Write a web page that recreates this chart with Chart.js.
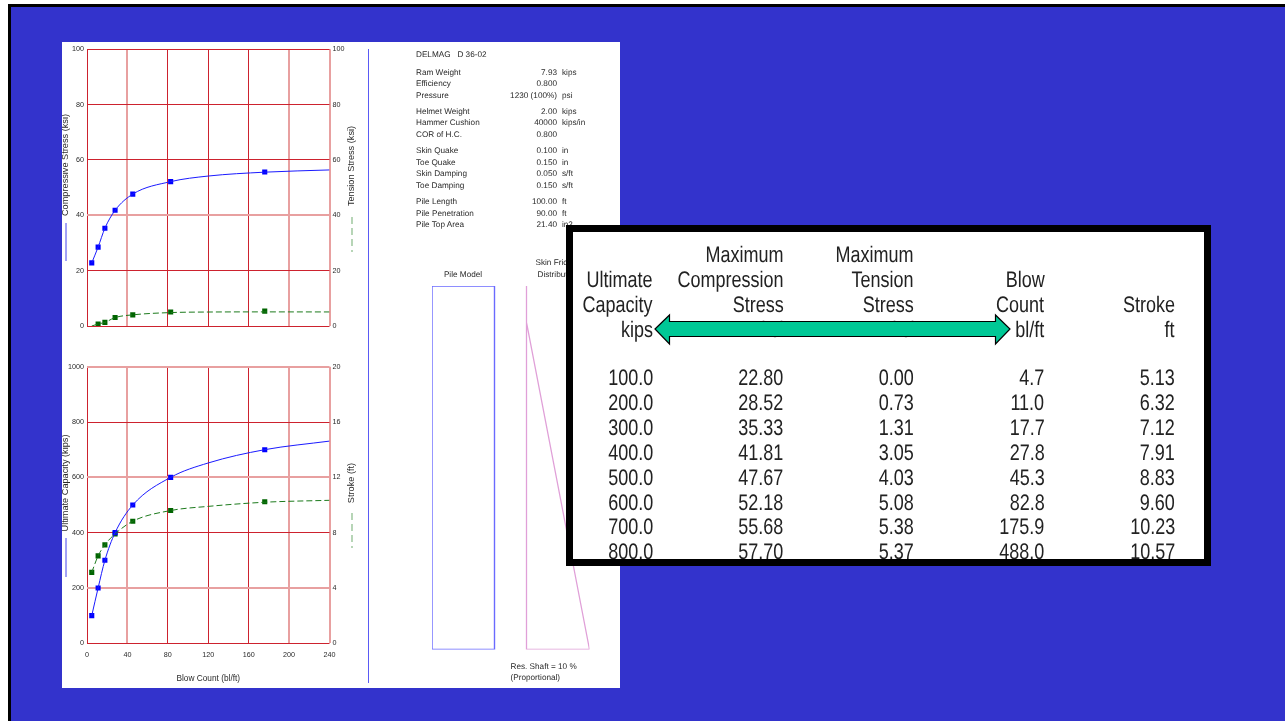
<!DOCTYPE html>
<html>
<head>
<meta charset="utf-8">
<title>Wave equation bearing graph</title>
<script src="https://cdn.jsdelivr.net/npm/chart.js@4"></script>
<style>
  html, body { margin: 0; padding: 0; background: #fff; }
  body { width: 1285px; height: 721px; overflow: hidden; position: relative; font-family: "Liberation Sans", Arial, sans-serif; text-rendering: geometricPrecision; }
  .abs { position: absolute; }
  #slide { left: 8px; top: 4px; width: 1277px; height: 717px; box-sizing: border-box; background: #3333cc; border: solid #000; border-width: 3px 0 0 3px; }
  #sheet { left: 62px; top: 42px; width: 558px; height: 646px; background: #fff; }
  canvas { position: absolute; filter: blur(0.25px); }
  #divider { left: 368px; top: 49px; width: 1px; height: 634px; background: #5a5af5; }
  #notes { filter: blur(0.25px); }
  .lbl { position: absolute; font-size: 8.2px; line-height: 11px; color: #2a2a2a; white-space: pre; }
  /* ── Table overlay ───────────────────────── */
  #tableBox { left: 566px; top: 225px; width: 645px; height: 341px; box-sizing: border-box; background: #fff; border: 7px solid #000; overflow: hidden; }
  .cell { position: absolute; font-size: 22.5px; line-height: 25px; color: #222; white-space: nowrap; transform: scaleX(.8); transform-origin: right center; text-align: right; filter: blur(0.3px); }
  #arrow { left: 640px; top: 305px; }
</style>
</head>
<body>
<div id="slide" class="abs"></div>
<div id="sheet" class="abs"></div>
<div id="divider" class="abs"></div>
<canvas id="stressChart" width="303" height="295" style="left:62px;top:42px"></canvas>
<canvas id="capacityChart" width="303" height="330" style="left:62px;top:358px"></canvas>
<canvas id="pileChart" width="170" height="375" style="left:426px;top:280px"></canvas>
<div id="notes"></div>
<div id="tableBox" class="abs"></div>
<svg id="arrow" class="abs" width="385" height="48">
  <polygon points="15,24 29.5,10 29.5,16.5 355.5,16.5 355.5,10 370,24 355.5,39 355.5,31.5 29.5,31.5 29.5,39" fill="#00c896" stroke="#000" stroke-width="1.2"/>
</svg>

<script>
/* ── Data ─────────────────────────────────────────────── */
const capacity    = [100, 200, 300, 400, 500, 600, 700, 800];
const compression = [22.80, 28.52, 35.33, 41.81, 47.67, 52.18, 55.68, 57.70];
const tension     = [0.00, 0.73, 1.31, 3.05, 4.03, 5.08, 5.38, 5.37];
const blowCount   = [4.7, 11.0, 17.7, 27.8, 45.3, 82.8, 175.9, 488.0];
const stroke      = [5.13, 6.32, 7.12, 7.91, 8.83, 9.60, 10.23, 10.57];

/* fitted curves, they stop at the axis end */
const curveBlow        = [4.7, 11.0, 17.7, 27.8, 45.3, 82.8, 120, 175.9, 240];
const curveCapacity    = [100, 200, 300, 400, 500, 600, 652, 700, 731];
const curveCompression = [22.80, 28.52, 35.33, 41.81, 47.67, 52.18, 54.2, 55.6, 56.4];
const curveTension     = [0.00, 0.73, 1.31, 3.05, 4.03, 4.85, 5.05, 5.10, 5.08];
const curveStroke      = [5.13, 6.32, 7.12, 7.91, 8.83, 9.60, 9.90, 10.20, 10.34];

const blowTicks     = [0, 40, 80, 120, 160, 200, 240];
const stressTicks   = [0, 20, 40, 60, 80, 100];
const capacityTicks = [0, 200, 400, 600, 800, 1000];
const strokeTicks   = [0, 4, 8, 12, 16, 20];

/* pile model, depth in ft, friction as fraction of the plot width */
const pileWidth     = [0, 0, 1, 1, 0];
const pileDepth     = [0, 100, 100, 0, 0];
const frictionWidth = [1.512, 1.512, 2.52, 1.512];
const frictionDepth = [0, 100, 100, 10];

const hammerRows = [
  ['DELMAG   D 36-02', '', '', 54.5],
  ['Ram Weight', '7.93', 'kips', 72],
  ['Efficiency', '0.800', '', 83.5],
  ['Pressure', '1230 (100%)', 'psi', 95],
  ['Helmet Weight', '2.00', 'kips', 111],
  ['Hammer Cushion', '40000', 'kips/in', 122.5],
  ['COR of H.C.', '0.800', '', 134],
  ['Skin Quake', '0.100', 'in', 150.5],
  ['Toe Quake', '0.150', 'in', 162],
  ['Skin Damping', '0.050', 's/ft', 173.5],
  ['Toe Damping', '0.150', 's/ft', 185],
  ['Pile Length', '100.00', 'ft', 201.5],
  ['Pile Penetration', '90.00', 'ft', 213],
  ['Pile Top Area', '21.40', 'in2', 224.5]
];

const tableHeads = [
  ['', 'Ultimate', 'Capacity', 'kips'],
  ['Maximum', 'Compression', 'Stress', 'ksi'],
  ['Maximum', 'Tension', 'Stress', 'ksi'],
  ['', 'Blow', 'Count', 'bl/ft'],
  ['', '', 'Stroke', 'ft']
];
const tableCols = [
  capacity.map(v => v.toFixed(1)),
  compression.map(v => v.toFixed(2)),
  tension.map(v => v.toFixed(2)),
  blowCount.map(v => v.toFixed(1)),
  stroke.map(v => v.toFixed(2))
];

/* ── Styling ──────────────────────────────────────────── */
const BLUE = '#1a1aff', GREEN = '#1c7a1c';
const FONT = '"Liberation Sans", Arial, sans-serif';
const RED = 'rgb(205,34,46)', PALE = 'rgb(232,160,160)';

// the source was resampled, some grid lines came out crisp and some smeared
const paleX = [40, 200, 240];
const paleYTop = [40];
const paleYBottom = [200, 600, 1000];

function pts(xs, ys) { return xs.map((x, i) => ({ x, y: ys[i] })); }

function curve(ys, color, axis, dashed) {
  return {
    data: pts(curveBlow, ys),
    yAxisID: axis,
    borderColor: color,
    borderWidth: 1,
    borderDash: dashed ? [6, 3] : [],
    cubicInterpolationMode: 'monotone',
    pointRadius: 0
  };
}

function marks(xs, ys, color, axis, hideFirst) {
  return {
    data: pts(xs, ys),
    yAxisID: axis,
    showLine: false,
    backgroundColor: color,
    pointStyle: 'rect',
    pointRadius: ctx => (hideFirst && ctx.dataIndex === 0) ? 0 : 3.6,
    pointBorderWidth: 0
  };
}

/* axis captions sit off-centre with a line sample below them, so draw them here */
const captionPlugin = {
  id: 'captions',
  afterDraw(chart, args, opts) {
    const c = chart.ctx;
    opts.items.forEach(it => {
      c.save();
      c.translate(it.x, it.y);
      c.rotate(-Math.PI / 2);
      c.font = '9.2px ' + FONT;
      c.fillStyle = '#2a2a2a';
      c.textAlign = 'center';
      c.textBaseline = 'middle';
      c.fillText(it.text, 0, 0);
      c.restore();
      c.save();
      c.strokeStyle = it.color;
      c.lineWidth = it.width;
      c.setLineDash(it.dash);
      c.beginPath();
      c.moveTo(it.x + 0.5, it.y1);
      c.lineTo(it.x + 0.5, it.y2);
      c.stroke();
      c.restore();
    });
  }
};

function makeChart(id, opts) {
  const paleY = opts.paleY;
  const tickFont = { size: 7.2, family: FONT };
  return new Chart(document.getElementById(id), {
    type: 'line',
    data: { datasets: opts.datasets },
    plugins: [captionPlugin],
    options: {
      responsive: false,
      animation: false,
      events: [],
      layout: { padding: opts.padding },
      plugins: {
        legend: { display: false },
        tooltip: { enabled: false },
        captions: { items: opts.captions }
      },
      scales: {
        x: {
          type: 'linear', min: 0, max: 240,
          afterBuildTicks: s => { s.ticks = blowTicks.map(value => ({ value })); },
          afterFit: s => { s.height = opts.xHeight; },
          border: { display: false },
          grid: {
            drawTicks: false,
            color: c => paleX.includes(c.tick.value) ? PALE : RED,
            lineWidth: c => paleX.includes(c.tick.value) ? 2 : 1
          },
          ticks: { display: opts.xLabels, color: '#2a2a2a', padding: 7, maxRotation: 0, font: tickFont, callback: v => String(v) },
          title: { display: opts.xLabels, text: 'Blow Count (bl/ft)', color: '#2a2a2a', padding: { top: 7, bottom: 0 }, font: { size: 8.3, family: FONT } }
        },
        y: {
          position: 'left', min: 0, max: opts.leftTicks[opts.leftTicks.length - 1],
          afterBuildTicks: s => { s.ticks = opts.leftTicks.map(value => ({ value })); },
          afterFit: s => { s.width = 25; },
          border: { display: false },
          grid: {
            drawTicks: false,
            color: c => paleY.includes(c.tick.value) ? PALE : RED,
            lineWidth: c => paleY.includes(c.tick.value) ? 2 : 1
          },
          ticks: { color: '#2a2a2a', padding: 3, font: tickFont, callback: v => String(v) }
        },
        y2: {
          position: 'right', min: 0, max: opts.rightTicks[opts.rightTicks.length - 1],
          afterBuildTicks: s => { s.ticks = opts.rightTicks.map(value => ({ value })); },
          afterFit: s => { s.width = 35.5; },
          border: { display: false },
          grid: { display: false, drawTicks: false },
          ticks: { color: '#2a2a2a', padding: 3, font: tickFont, callback: v => String(v) }
        }
      }
    }
  });
}

/* ── Charts ───────────────────────────────────────────── */
makeChart('stressChart', {
  padding: { top: 7.3, left: 0, right: 0, bottom: 0 },
  xHeight: 11,
  xLabels: false,
  paleY: paleYTop,
  leftTicks: stressTicks,
  rightTicks: stressTicks,
  datasets: [
    curve(curveCompression, BLUE, 'y', false),
    curve(curveTension, GREEN, 'y2', true),
    marks(blowCount, compression, '#0000ff', 'y', false),
    marks(blowCount, tension, '#006400', 'y2', true)
  ],
  captions: [
    { text: 'Compressive Stress (ksi)', x: 3.5, y: 123, y1: 181, y2: 219, color: '#4444ee', width: 1, dash: [] },
    { text: 'Tension Stress (ksi)', x: 289.5, y: 124, y1: 175, y2: 210, color: '#a5cba5', width: 1.6, dash: [7, 4] }
  ]
});

makeChart('capacityChart', {
  padding: { top: 8.7, left: 0, right: 0, bottom: 4 },
  xHeight: 40.7,
  xLabels: true,
  paleY: paleYBottom,
  leftTicks: capacityTicks,
  rightTicks: strokeTicks,
  datasets: [
    curve(curveCapacity, BLUE, 'y', false),
    curve(curveStroke, GREEN, 'y2', true),
    marks(blowCount, capacity, '#0000ff', 'y', false),
    marks(blowCount, stroke, '#006400', 'y2', false)
  ],
  captions: [
    { text: 'Ultimate Capacity (kips)', x: 3.5, y: 125, y1: 180, y2: 219, color: '#4444ee', width: 1, dash: [] },
    { text: 'Stroke (ft)', x: 289.5, y: 125, y1: 155, y2: 190, color: '#a5cba5', width: 1.6, dash: [7, 4] }
  ]
});

new Chart(document.getElementById('pileChart'), {
  type: 'scatter',
  data: {
    datasets: [
      { data: pts(pileWidth, pileDepth), showLine: true, borderColor: '#6a6aff', borderWidth: 1.4, pointRadius: 0, tension: 0 },
      { data: pts(frictionWidth, frictionDepth), showLine: true, borderColor: '#e0a0d8', borderWidth: 1.3, pointRadius: 0, tension: 0 }
    ]
  },
  options: {
    responsive: false,
    animation: false,
    events: [],
    layout: { padding: { left: 6, top: 6, right: 6.5, bottom: 5.5 } },
    plugins: { legend: { display: false }, tooltip: { enabled: false } },
    scales: {
      x: { type: 'linear', min: 0, max: 2.52, display: false },
      y: { type: 'linear', min: 0, max: 100, reverse: true, display: false }
    }
  }
});

/* ── Text blocks ──────────────────────────────────────── */
const notes = document.getElementById('notes');
function addLabel(text, x, y, align) {
  const el = document.createElement('div');
  el.className = 'lbl';
  el.textContent = text;
  el.style.top = (y - 5.5) + 'px';
  if (align === 'right') el.style.right = (1285 - x) + 'px';
  else if (align === 'center') { el.style.left = x + 'px'; el.style.transform = 'translateX(-50%)'; }
  else el.style.left = x + 'px';
  notes.appendChild(el);
}
hammerRows.forEach(([name, value, unit, y]) => {
  addLabel(name, 416, y);
  if (value) addLabel(value, 557, y, 'right');
  if (unit) addLabel(unit, 562, y);
});
addLabel('Pile Model', 463, 274.5, 'center');
addLabel('Skin Friction', 558, 262.5, 'center');
addLabel('Distribution', 558, 274.5, 'center');
addLabel('Res. Shaft = 10 %', 510.5, 666);
addLabel('(Proportional)', 510.5, 677.5);

/* ── Table overlay ────────────────────────────────────── */
const box = document.getElementById('tableBox');
const colRight = [653, 783.5, 914, 1044.5, 1175];
const headLines = [254.5, 279.5, 304.5, 329];
const rowLines = [377.5, 402.5, 427.5, 452.5, 477, 502, 526.5, 551.5];
function addCell(text, col, y) {
  const el = document.createElement('div');
  el.className = 'cell';
  el.textContent = text;
  el.style.right = (1204 - colRight[col]) + 'px';
  el.style.top = (y - 12.5 - 232) + 'px';
  box.appendChild(el);
}
tableHeads.forEach((lines, col) => lines.forEach((t, i) => { if (t) addCell(t, col, headLines[i]); }));
tableCols.forEach((vals, col) => vals.forEach((t, i) => addCell(t, col, rowLines[i])));
</script>
</body>
</html>
